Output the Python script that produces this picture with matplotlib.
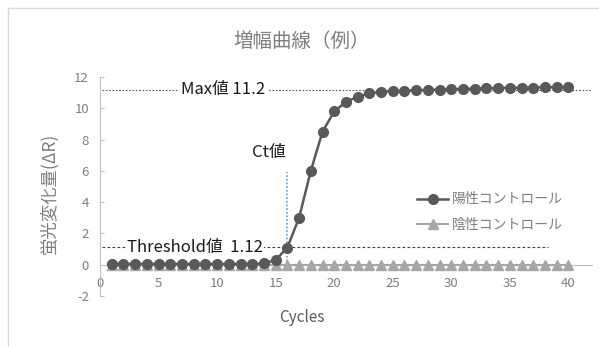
import matplotlib
matplotlib.use("Agg")
import matplotlib.pyplot as plt
from matplotlib.lines import Line2D

plt.rcParams['font.family'] = ['Noto Sans CJK JP', 'DejaVu Sans']
plt.rcParams['axes.unicode_minus'] = False

# data
cycles = list(range(1, 41))
positive = [0.05, 0.05, 0.05, 0.05, 0.05, 0.05, 0.05, 0.05, 0.05, 0.05,
            0.05, 0.05, 0.05, 0.08, 0.3, 1.1, 3.0, 6.0, 8.5, 9.8,
            10.4, 10.75, 10.95, 11.05, 11.1, 11.12, 11.15, 11.17, 11.2, 11.22,
            11.24, 11.26, 11.28, 11.3, 11.31, 11.32, 11.33, 11.34, 11.35, 11.37]
negative = [0.0] * 40
threshold = 1.12
max_value = 11.2
ct = 16
ct_top = 5.9

fig = plt.figure(figsize=(5.99, 3.47), dpi=100)
ax = fig.add_axes([0.167, 0.147, 0.821, 0.631])

# outer chart border (cropped)
fig.add_artist(Line2D([8/599, 1], [1 - 8/347, 1 - 8/347], color='#d9d9d9', lw=1))
fig.add_artist(Line2D([8/599, 8/599], [0, 1 - 8/347], color='#d9d9d9', lw=1))

# reference lines
ax.plot([0.2, 42], [max_value, max_value], color='#595959', lw=0.8,
        linestyle=(0, (1.5, 1.5)), zorder=1)
ax.plot([0.2, 38.3], [threshold, threshold], color='#404040', lw=0.8,
        linestyle=(0, (2.5, 2)), zorder=1)
ax.plot([ct, ct], [0, ct_top], color='#5b9bd5', lw=1.1,
        linestyle=(0, (1.2, 1.2)), zorder=1)

ax.plot(cycles, negative, color='#a6a6a6', lw=1.5, marker='^', markersize=6.5,
        label='陰性コントロール', zorder=3)
ax.plot(cycles, positive, color='#595959', lw=1.8, marker='o', markersize=7,
        label='陽性コントロール', zorder=4)

ax.text(10.5, max_value, 'Max値 11.2', fontsize=12, color='#1a1a1a',
        ha='center', va='center',
        bbox=dict(facecolor='white', edgecolor='none', pad=2))
ax.text(8.1, threshold, 'Threshold値  1.12', fontsize=12, color='#1a1a1a',
        ha='center', va='center',
        bbox=dict(facecolor='white', edgecolor='none', pad=1))
ax.text(14.4, 7.2, 'Ct値', fontsize=12, color='#1a1a1a', ha='center', va='center')

ax.set_xlim(0, 42)
ax.set_ylim(-2, 12)
ax.set_xticks([0, 5, 10, 15, 20, 25, 30, 35, 40])
ax.set_yticks([-2, 0, 2, 4, 6, 8, 10, 12])

for s in ['top', 'right']:
    ax.spines[s].set_visible(False)
ax.spines['bottom'].set_position(('data', 0))
ax.spines['bottom'].set_color('#bfbfbf')
ax.spines['left'].set_color('#bfbfbf')
ax.tick_params(axis='x', length=0, labelsize=9.5, labelcolor='#7f7f7f', pad=9)
ax.tick_params(axis='y', direction='in', length=3, color='#bfbfbf',
               labelsize=9.5, labelcolor='#7f7f7f', pad=8)

ax.set_title('増幅曲線（例）', fontsize=14, color='#7f7f7f', pad=22, x=0.41)
ax.set_xlabel('Cycles', fontsize=11, color='#595959')
ax.xaxis.set_label_coords((302 - 100) / 492, -0.06)
ax.set_ylabel('蛍光変化量(ΔR)', fontsize=12.5, color='#7f7f7f')
ax.yaxis.set_label_coords(-0.085, 0.47)

handles, labels = ax.get_legend_handles_labels()
ax.legend(handles[::-1], labels[::-1], loc='upper left',
          bbox_to_anchor=(0.62, 0.53), frameon=False, fontsize=10,
          labelcolor='#7f7f7f', handlelength=2.2, handletextpad=0.3,
          labelspacing=0.8)

fig.savefig('out.png', dpi=100, facecolor='white')
